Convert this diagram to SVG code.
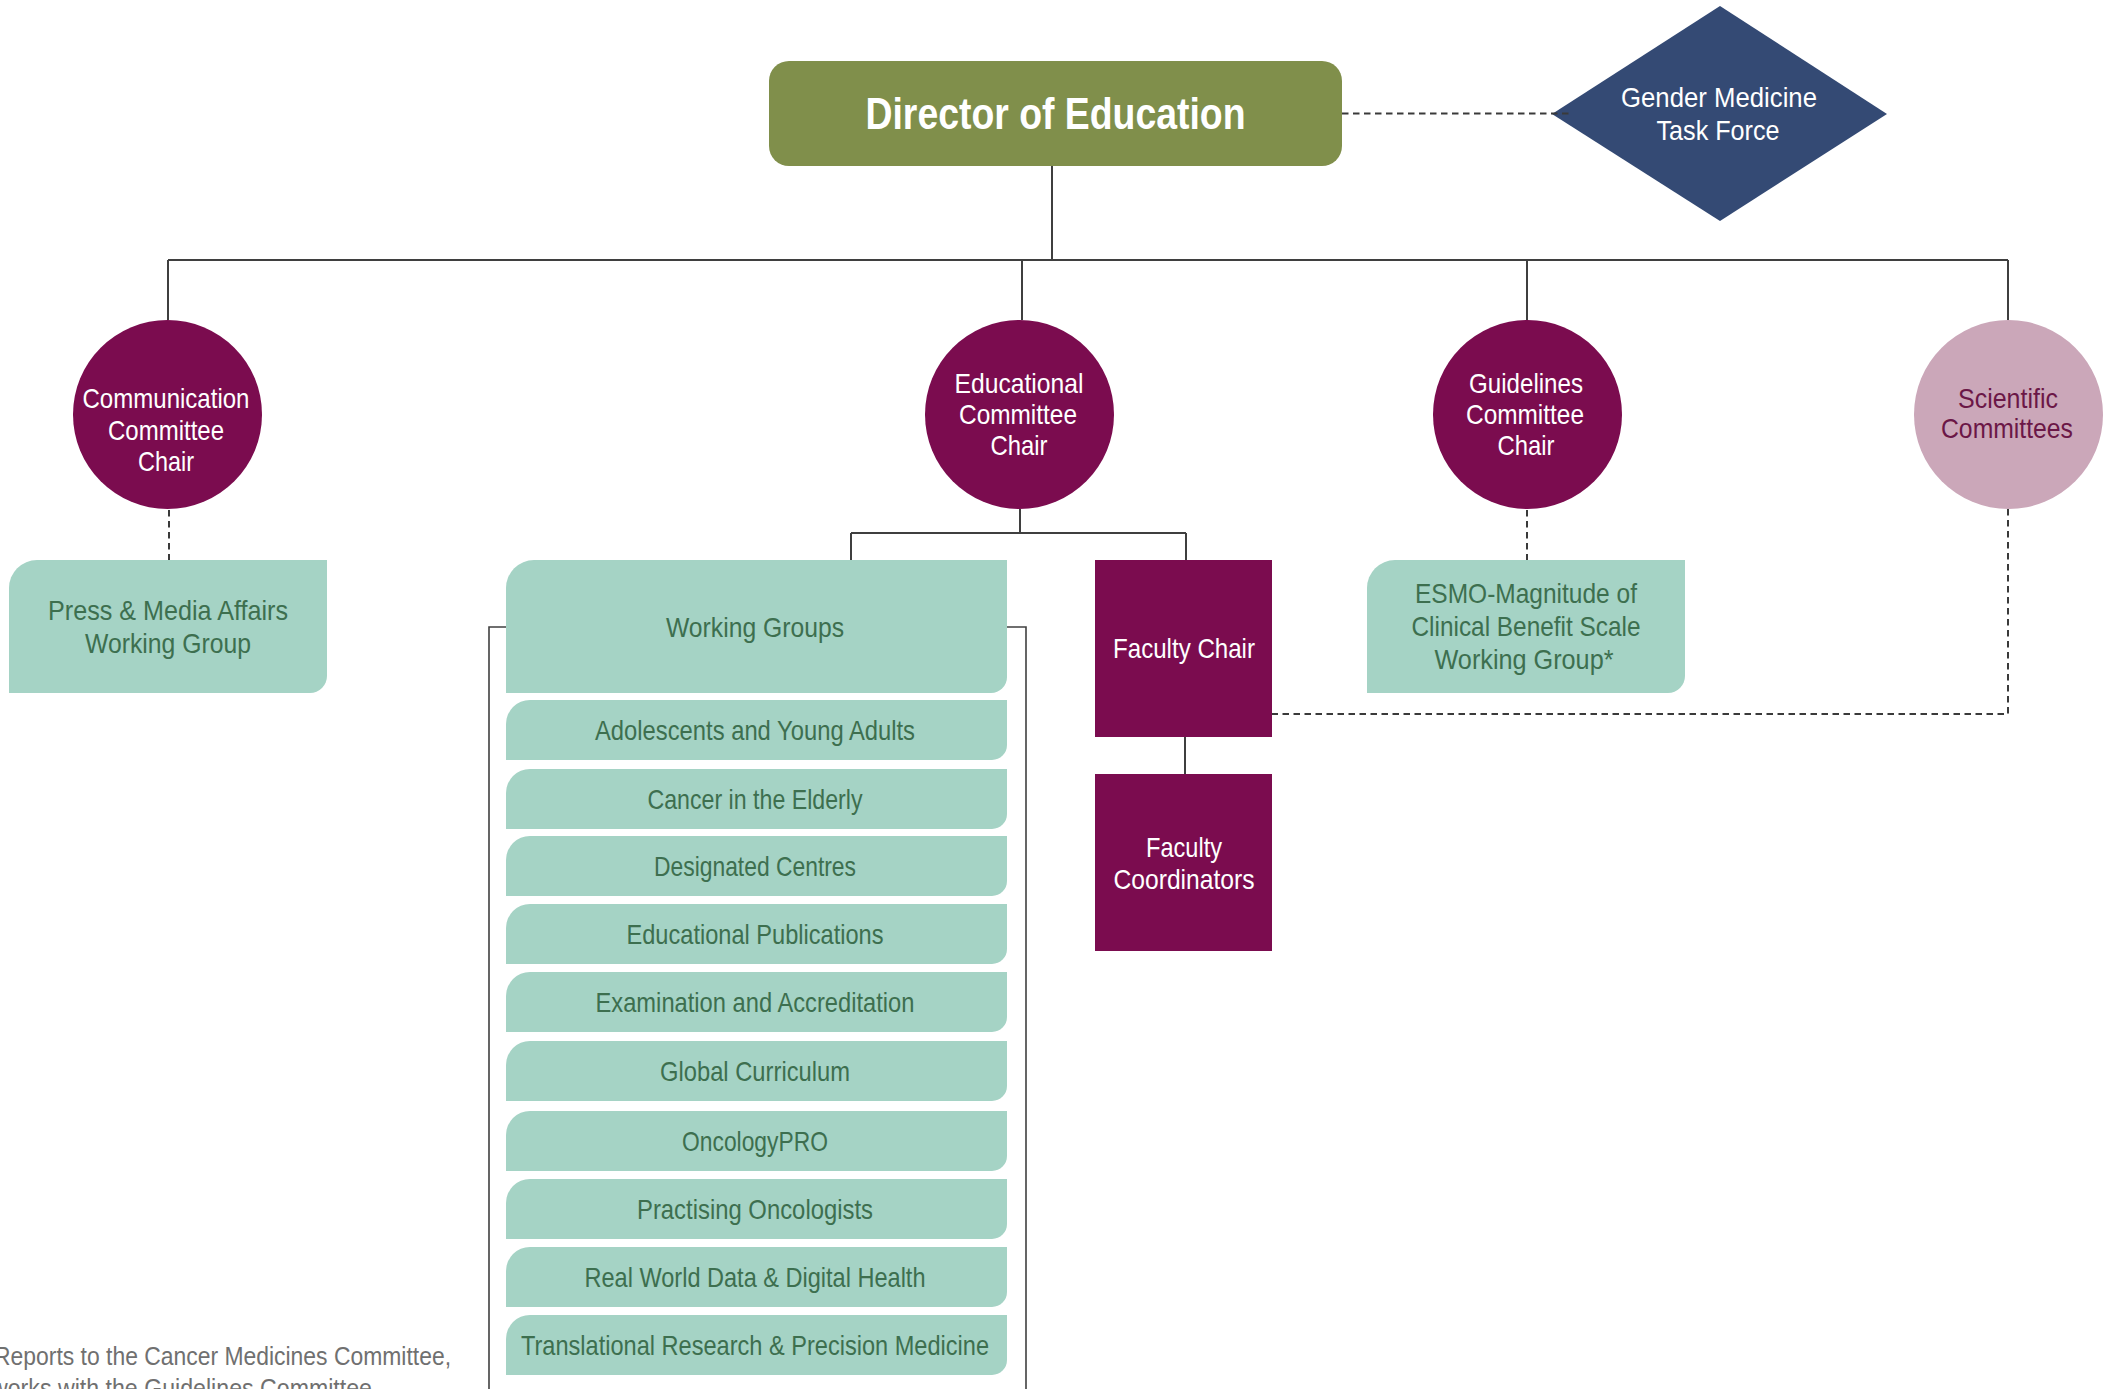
<svg xmlns="http://www.w3.org/2000/svg" width="2111" height="1389" viewBox="0 0 2111 1389">
<style>
text{font-family:"Liberation Sans",Arial,sans-serif;font-size:28px;text-anchor:middle}
.w{fill:#ffffff}
.g{fill:#3d6f4f}
.mint{fill:#a5d3c5}
.mag{fill:#7b0c4f}
.conn{stroke:#3f3f3f;stroke-width:2;fill:none}
.thin{stroke:#404040;stroke-width:1.6;fill:none}
.dash{stroke:#3a3a3a;stroke-width:2;stroke-dasharray:6.5 4.5;fill:none}
.foot{fill:#707070;font-size:26px;text-anchor:start}
</style>
<g id="director">
<rect x="769" y="61" width="573" height="105" rx="20" ry="20" fill="#808f4b"/>
<text x="1055.5" y="129" class="w" style="font-size:44px;font-weight:bold" textLength="380" lengthAdjust="spacingAndGlyphs">Director of Education</text>
</g>
<g id="gender-task-force">
<polygon points="1720,6 1887,114 1720,221 1552,114" fill="#344a74"/>
<text x="1719" y="107" class="w" textLength="196" lengthAdjust="spacingAndGlyphs">Gender Medicine</text>
<text x="1718" y="140" class="w" textLength="123" lengthAdjust="spacingAndGlyphs">Task Force</text>
</g>
<g id="communication-chair">
<circle cx="167.5" cy="414.5" r="94.5" class="mag"/>
<text x="166" y="408" class="w" textLength="167" lengthAdjust="spacingAndGlyphs">Communication</text>
<text x="166" y="440" class="w" textLength="116" lengthAdjust="spacingAndGlyphs">Committee</text>
<text x="166" y="471" class="w" textLength="56" lengthAdjust="spacingAndGlyphs">Chair</text>
</g>
<g id="educational-chair">
<circle cx="1019.5" cy="414.5" r="94.5" class="mag"/>
<text x="1019" y="393" class="w" textLength="129" lengthAdjust="spacingAndGlyphs">Educational</text>
<text x="1018" y="424" class="w" textLength="118" lengthAdjust="spacingAndGlyphs">Committee</text>
<text x="1019" y="455" class="w" textLength="57" lengthAdjust="spacingAndGlyphs">Chair</text>
</g>
<g id="guidelines-chair">
<circle cx="1527.5" cy="414.5" r="94.5" class="mag"/>
<text x="1526" y="393" class="w" textLength="114" lengthAdjust="spacingAndGlyphs">Guidelines</text>
<text x="1525" y="424" class="w" textLength="118" lengthAdjust="spacingAndGlyphs">Committee</text>
<text x="1526" y="455" class="w" textLength="57" lengthAdjust="spacingAndGlyphs">Chair</text>
</g>
<g id="scientific-committees">
<circle cx="2008.5" cy="414.5" r="94.5" fill="#cba7b9"/>
<text x="2008" y="408" style="fill:#6b1747" textLength="100" lengthAdjust="spacingAndGlyphs">Scientific</text>
<text x="2007" y="438" style="fill:#6b1747" textLength="132" lengthAdjust="spacingAndGlyphs">Committees</text>
</g>
<g id="press-media">
<path d="M37,560 H327 V676 A17,17 0 0 1 310,693 H9 V588 A28,28 0 0 1 37,560 Z" class="mint"/>
<text x="168" y="620" class="g" textLength="240" lengthAdjust="spacingAndGlyphs">Press &amp; Media Affairs</text>
<text x="168" y="653" class="g" textLength="166" lengthAdjust="spacingAndGlyphs">Working Group</text>
</g>
<g id="working-groups">
<path d="M534,560 H1007 V677 A16,16 0 0 1 991,693 H506 V588 A28,28 0 0 1 534,560 Z" class="mint"/>
<text x="755" y="637" class="g" textLength="178" lengthAdjust="spacingAndGlyphs">Working Groups</text>
</g>
<g id="wg-adolescents">
<path d="M530,700 H1007 V745 A15,15 0 0 1 992,760 H506 V724 A24,24 0 0 1 530,700 Z" class="mint"/>
<text x="755" y="740" class="g" textLength="320" lengthAdjust="spacingAndGlyphs">Adolescents and Young Adults</text>
</g>
<g id="wg-elderly">
<path d="M530,769 H1007 V814 A15,15 0 0 1 992,829 H506 V793 A24,24 0 0 1 530,769 Z" class="mint"/>
<text x="755" y="809" class="g" textLength="215" lengthAdjust="spacingAndGlyphs">Cancer in the Elderly</text>
</g>
<g id="wg-designated">
<path d="M530,836 H1007 V881 A15,15 0 0 1 992,896 H506 V860 A24,24 0 0 1 530,836 Z" class="mint"/>
<text x="755" y="876" class="g" textLength="202" lengthAdjust="spacingAndGlyphs">Designated Centres</text>
</g>
<g id="wg-publications">
<path d="M530,904 H1007 V949 A15,15 0 0 1 992,964 H506 V928 A24,24 0 0 1 530,904 Z" class="mint"/>
<text x="755" y="944" class="g" textLength="257" lengthAdjust="spacingAndGlyphs">Educational Publications</text>
</g>
<g id="wg-examination">
<path d="M530,972 H1007 V1017 A15,15 0 0 1 992,1032 H506 V996 A24,24 0 0 1 530,972 Z" class="mint"/>
<text x="755" y="1012" class="g" textLength="319" lengthAdjust="spacingAndGlyphs">Examination and Accreditation</text>
</g>
<g id="wg-global">
<path d="M530,1041 H1007 V1086 A15,15 0 0 1 992,1101 H506 V1065 A24,24 0 0 1 530,1041 Z" class="mint"/>
<text x="755" y="1081" class="g" textLength="190" lengthAdjust="spacingAndGlyphs">Global Curriculum</text>
</g>
<g id="wg-oncologypro">
<path d="M530,1111 H1007 V1156 A15,15 0 0 1 992,1171 H506 V1135 A24,24 0 0 1 530,1111 Z" class="mint"/>
<text x="755" y="1151" class="g" textLength="146" lengthAdjust="spacingAndGlyphs">OncologyPRO</text>
</g>
<g id="wg-practising">
<path d="M530,1179 H1007 V1224 A15,15 0 0 1 992,1239 H506 V1203 A24,24 0 0 1 530,1179 Z" class="mint"/>
<text x="755" y="1219" class="g" textLength="236" lengthAdjust="spacingAndGlyphs">Practising Oncologists</text>
</g>
<g id="wg-realworld">
<path d="M530,1247 H1007 V1292 A15,15 0 0 1 992,1307 H506 V1271 A24,24 0 0 1 530,1247 Z" class="mint"/>
<text x="755" y="1287" class="g" textLength="341" lengthAdjust="spacingAndGlyphs">Real World Data &amp; Digital Health</text>
</g>
<g id="wg-translational">
<path d="M530,1315 H1007 V1360 A15,15 0 0 1 992,1375 H506 V1339 A24,24 0 0 1 530,1315 Z" class="mint"/>
<text x="755" y="1355" class="g" textLength="468" lengthAdjust="spacingAndGlyphs">Translational Research &amp; Precision Medicine</text>
</g>
<g id="faculty-chair">
<rect x="1095" y="560" width="177" height="177" class="mag"/>
<text x="1184" y="658" class="w" textLength="142" lengthAdjust="spacingAndGlyphs">Faculty Chair</text>
</g>
<g id="faculty-coordinators">
<rect x="1095" y="774" width="177" height="177" class="mag"/>
<text x="1184" y="857" class="w" textLength="76" lengthAdjust="spacingAndGlyphs">Faculty</text>
<text x="1184" y="889" class="w" textLength="141" lengthAdjust="spacingAndGlyphs">Coordinators</text>
</g>
<g id="esmo-mcbs">
<path d="M1395,560 H1685 V676 A17,17 0 0 1 1668,693 H1367 V588 A28,28 0 0 1 1395,560 Z" class="mint"/>
<text x="1526" y="603" class="g" textLength="222" lengthAdjust="spacingAndGlyphs">ESMO-Magnitude of</text>
<text x="1526" y="636" class="g" textLength="229" lengthAdjust="spacingAndGlyphs">Clinical Benefit Scale</text>
<text x="1524" y="669" class="g" textLength="179" lengthAdjust="spacingAndGlyphs">Working Group*</text>
</g>
<g id="connectors">
<path class="conn" d="M1052,166 V260 M168,260 H2008 M168,260 V320 M1022,260 V320 M1527,260 V320 M2008,260 V320"/>
<path class="conn" d="M1020,509 V533 M851,533 H1186 M851,533 V560 M1186,533 V560 M1185,737 V774"/>
<path class="thin" d="M506,627 H489 V1389 M1007,627 H1026 V1389"/>
<path class="dash" d="M1342,113.5 H1570"/>
<path class="dash" d="M169,510 V560"/>
<path class="dash" d="M1527,510 V560"/>
<path class="dash" d="M2008,509 V714 H1272"/>
</g>
<text class="foot" x="-6" y="1365" textLength="457" lengthAdjust="spacingAndGlyphs">Reports to the Cancer Medicines Committee,</text>
<text class="foot" x="-9" y="1397" textLength="381" lengthAdjust="spacingAndGlyphs">works with the Guidelines Committee</text>
</svg>
